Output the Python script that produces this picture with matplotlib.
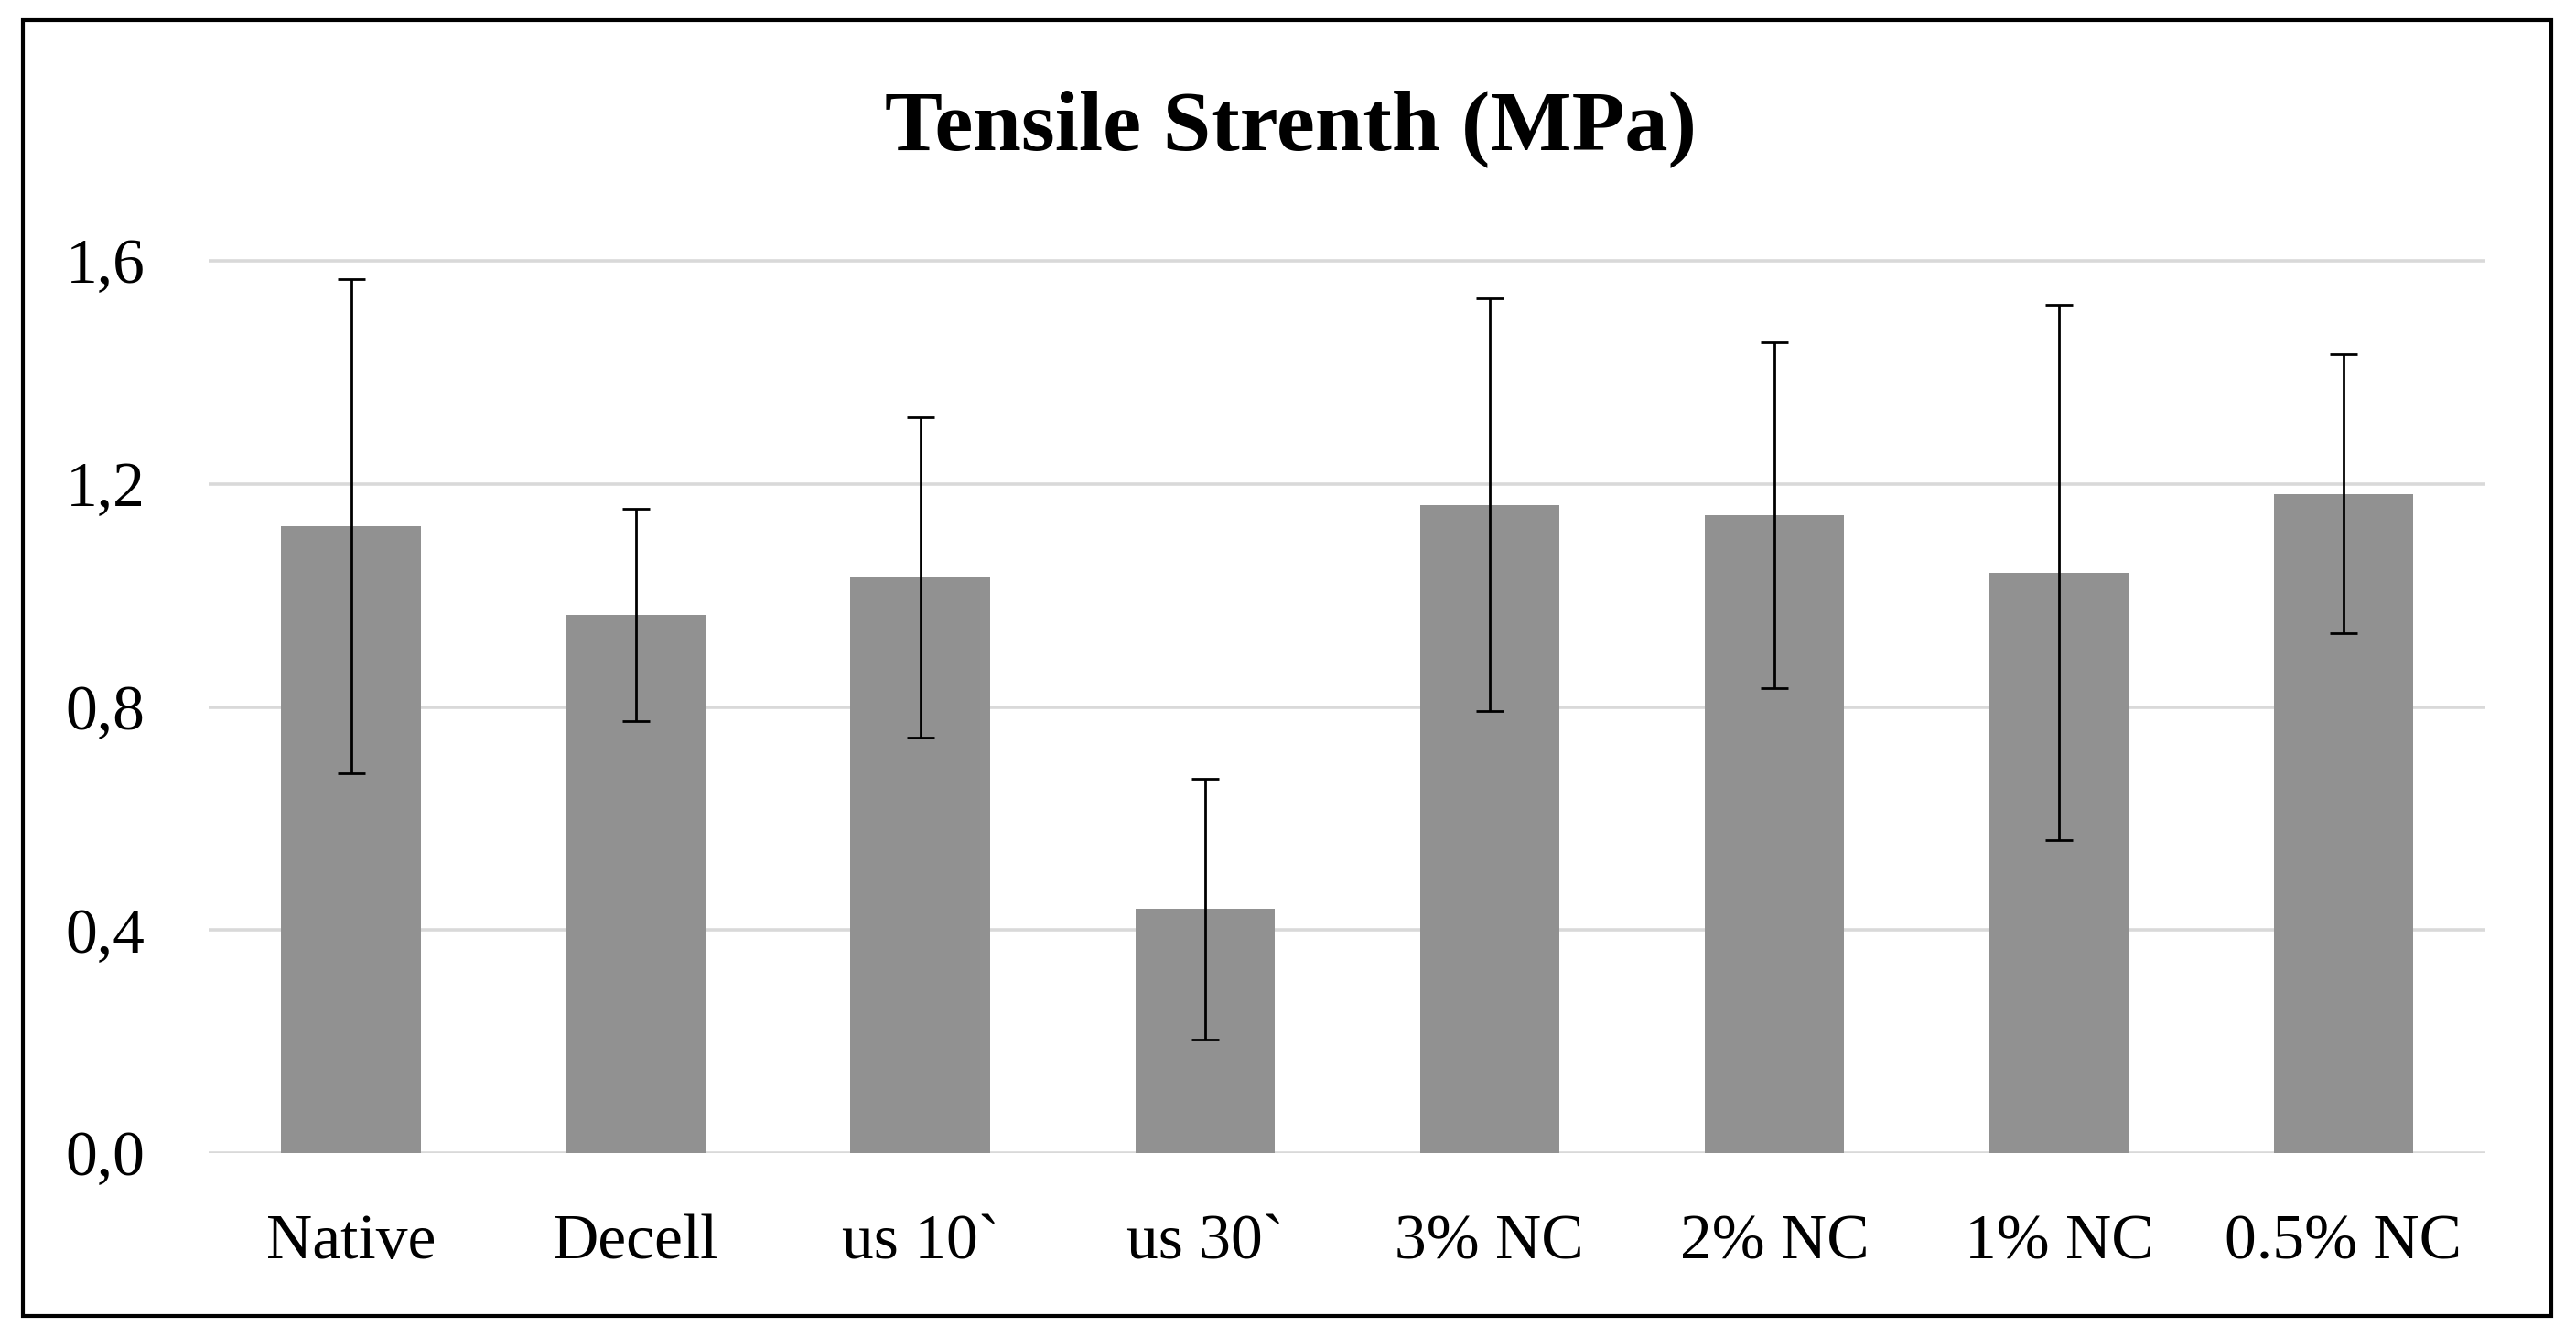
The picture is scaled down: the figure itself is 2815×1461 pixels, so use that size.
import numpy as np
import matplotlib.pyplot as plt
from matplotlib.patches import Rectangle

# tensile strength bar chart with error bars
groups = ['Native', 'Decell', 'us 10`', 'us 30`', '3% NC', '2% NC', '1% NC', '0.5% NC']
strength = [1.124, 0.965, 1.032, 0.438, 1.162, 1.144, 1.041, 1.182]
err = [0.443, 0.190, 0.287, 0.234, 0.370, 0.310, 0.480, 0.250]
yticks = [0.0, 0.4, 0.8, 1.2, 1.6]
ytick_labels = ['0,0', '0,4', '0,8', '1,2', '1,6']

plt.rcParams['font.family'] = 'Liberation Serif'

fig = plt.figure(figsize=(28.15, 14.61), dpi=100)
ax = fig.add_axes([0.081, 0.1374, 0.884, 0.6884])

x = np.arange(len(groups))
ax.bar(x, strength, width=0.49, color='#919191', zorder=2)
ax.errorbar(x, strength, yerr=err, fmt='none', ecolor='black', elinewidth=2,
            capsize=10.5, capthick=2, zorder=3)

ax.set_xlim(-0.5, len(groups) - 0.5)
ax.set_ylim(0, 1.65)
ax.set_yticks(yticks)
ax.set_yticklabels(ytick_labels)
ax.set_xticks(x)
ax.set_xticklabels(groups)
ax.tick_params(axis='both', length=0, labelsize=50, colors='black')
ax.tick_params(axis='y', pad=50)
ax.tick_params(axis='x', pad=48)
ax.yaxis.grid(True, color='#d9d9d9', linewidth=2.6, zorder=0)
ax.set_axisbelow(True)
for s in ax.spines.values():
    s.set_visible(False)

fig.text(0.501, 0.904, 'Tensile Strenth (MPa)', ha='center', va='center',
         fontsize=68, fontweight='bold')

# black frame around the whole picture
fig.patches.append(Rectangle((0.0089, 0.016), 0.9815, 0.969, transform=fig.transFigure,
                             fill=False, edgecolor='black', linewidth=3))

fig.savefig('out.png', dpi=100)
